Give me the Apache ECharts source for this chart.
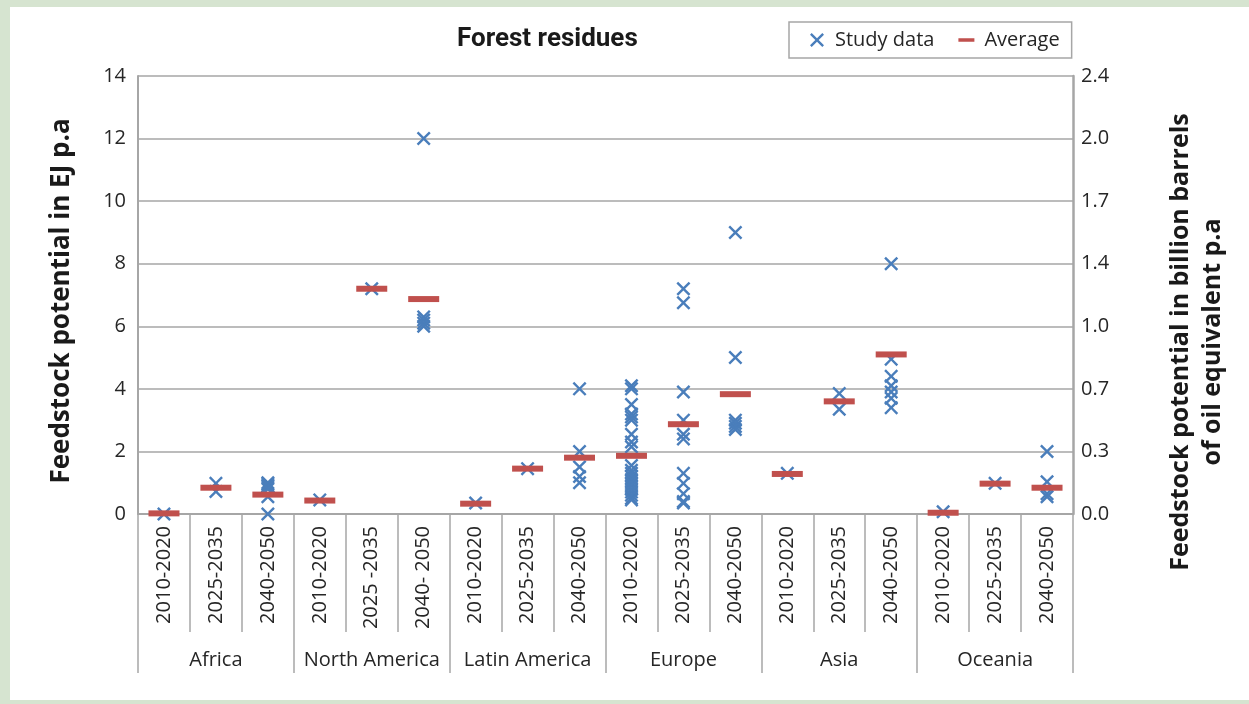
<!DOCTYPE html>
<html>
<head>
<meta charset="utf-8">
<title>Forest residues</title>
<script src="https://cdn.jsdelivr.net/npm/echarts@6/dist/echarts.min.js"></script>
<style>
  body { margin: 0; background: #d6e4d0; }
  #panel { position: absolute; left: 10px; top: 7px; width: 1239px; height: 693px; background: #fff; }
  #chart { position: absolute; left: 0; top: 0; width: 1249px; height: 704px; }
</style>
</head>
<body>
<div id="panel"></div>
<div id="chart"></div>
<script>
// periods per region, in axis order
const periods = [
  '2010-2020', '2025-2035', '2040-2050',
  '2010-2020', '2025 -2035', '2040- 2050',
  '2010-2020', '2025-2035', '2040-2050',
  '2010-2020', '2025-2035', '2040-2050',
  '2010-2020', '2025-2035', '2040-2050',
  '2010-2020', '2025-2035', '2040-2050'
];
const regions = ['Africa', 'North America', 'Latin America', 'Europe', 'Asia', 'Oceania'];

// individual study values (EJ p.a), one list per period
const studyValues = [
  [0.0], [0.98, 0.72], [1.0, 0.95, 0.9, 0.85, 0.8, 0.55, 0.0],                 // Africa
  [0.45], [7.2], [12.0, 6.3, 6.2, 6.1, 6.0],                                    // North America
  [0.35], [1.45], [4.0, 2.0, 1.5, 1.2, 1.0],                                    // Latin America
  [4.1, 4.0, 3.5, 3.2, 3.1, 3.0, 2.55, 2.3, 2.15, 1.55, 1.4, 1.3, 1.2, 1.1,
   1.0, 0.9, 0.8, 0.7, 0.6, 0.5, 0.45],
  [7.2, 6.75, 3.9, 3.0, 2.55, 2.4, 1.3, 0.98, 0.65, 0.4, 0.35],
  [9.0, 5.0, 3.0, 2.9, 2.8, 2.7],                                               // Europe
  [1.3], [3.85, 3.35], [8.0, 4.95, 4.4, 4.1, 3.9, 3.7, 3.4],                    // Asia
  [0.07], [0.98], [2.0, 1.03, 0.65, 0.55]                                       // Oceania
];

// average per period
const averages = [
  0.02, 0.84, 0.62,
  0.43, 7.2, 6.87,
  0.33, 1.45, 1.8,
  1.86, 2.87, 3.83,
  1.28, 3.6, 5.1,
  0.04, 0.97, 0.84
];

const leftTicks = [0, 2, 4, 6, 8, 10, 12, 14];
const rightTickLabels = ['0.0', '0.3', '0.7', '1.0', '1.4', '1.7', '2.0', '2.4'];

const studyPoints = [];
studyValues.forEach((vals, i) => vals.forEach(v => studyPoints.push([i, v])));
const avgPoints = averages.map((v, i) => [i, v]);

const FONT = '"Open Sans", "Noto Sans", sans-serif';
const TXT = '#262626';
const GRID = '#a6a6a6';
const crossPath = 'path://M0,1.7L1.7,0L7,5.3L12.3,0L14,1.7L8.7,7L14,12.3L12.3,14L7,8.7L1.7,14L0,12.3L5.3,7Z';
// thin dash, padded to a 26x14 box so the legend keeps it small
const dashPath = 'path://M0,0L26,0L26,0Z M5,5.2L21,5.2L21,8.8L5,8.8Z M0,14L26,14L26,14Z';

const chart = echarts.init(document.getElementById('chart'));

chart.setOption({
  animation: false,
  title: {
    text: 'Forest residues',
    left: 452, top: 21,
    textStyle: { fontFamily: 'Roboto, sans-serif', fontWeight: 'bold', fontSize: 26, color: '#1a1a1a' }
  },
  legend: {
    left: 789, top: 22,
    padding: [8, 12, 8, 21],
    itemGap: 19, itemWidth: 26, itemHeight: 14,
    borderColor: GRID, borderWidth: 1.5,
    textStyle: { fontFamily: FONT, fontSize: 20, color: TXT },
    data: [
      { name: 'Study data', icon: crossPath },
      { name: 'Average', icon: dashPath }
    ]
  },
  grid: [
    { left: 138, right: 176, top: 76, bottom: 190 },
    // empty strip whose bottom edge sits under the period labels; carries the region axis
    { left: 138, right: 176, top: 560, bottom: 72 }
  ],
  xAxis: [
    {
      type: 'category',
      gridIndex: 0,
      data: periods,
      position: 'bottom',
      axisLine: { lineStyle: { color: GRID, width: 2 } },
      axisTick: { show: true, interval: 0, length: 118, lineStyle: { color: GRID, width: 1.5 } },
      axisLabel: { interval: 0, rotate: 90, margin: 12, fontFamily: FONT, fontSize: 20, color: TXT }
    },
    {
      type: 'category',
      gridIndex: 1,
      data: regions,
      position: 'bottom',
      axisLine: { show: false },
      axisTick: { show: true, interval: 0, length: 41, lineStyle: { color: GRID, width: 1.5 } },
      axisLabel: { interval: 0, margin: 18, fontFamily: FONT, fontSize: 20, color: TXT }
    }
  ],
  yAxis: [
    {
      type: 'value', gridIndex: 0, min: 0, max: 14, interval: 2,
      axisLine: { show: true, lineStyle: { color: GRID, width: 2 } },
      axisTick: { show: false },
      splitLine: { lineStyle: { color: GRID, width: 1.5 } },
      axisLabel: { margin: 12, fontFamily: FONT, fontSize: 20, color: TXT }
    },
    {
      type: 'value', gridIndex: 0, min: 0, max: 14, interval: 2, position: 'right',
      axisLine: { show: true, lineStyle: { color: GRID, width: 2.5 } },
      axisTick: { show: false },
      splitLine: { show: false },
      axisLabel: {
        margin: 8, fontFamily: FONT, fontSize: 20, color: TXT,
        formatter: v => rightTickLabels[leftTicks.indexOf(v)]
      }
    },
    { type: 'value', gridIndex: 1, show: false }
  ],
  graphic: [
    {
      type: 'text', x: 62, y: 301, rotation: Math.PI / 2,
      style: {
        text: 'Feedstock potential in EJ p.a',
        font: 'bold 26px ' + FONT, fill: '#1a1a1a',
        align: 'center', verticalAlign: 'middle', textAlign: 'center', textVerticalAlign: 'middle'
      }
    },
    {
      type: 'text', x: 1197, y: 342, rotation: Math.PI / 2,
      style: {
        text: 'Feedstock potential in billion barrels\nof oil equivalent p.a',
        font: 'bold 25px ' + FONT, fill: '#1a1a1a', lineHeight: 32,
        align: 'center', verticalAlign: 'middle', textAlign: 'center', textVerticalAlign: 'middle'
      }
    }
  ],
  series: [
    {
      name: 'Study data',
      type: 'scatter',
      xAxisIndex: 0, yAxisIndex: 0,
      symbol: crossPath,
      symbolSize: 14,
      itemStyle: { color: '#4a7ebb', opacity: 1 },
      data: studyPoints
    },
    {
      name: 'Average',
      type: 'scatter',
      xAxisIndex: 0, yAxisIndex: 0,
      symbol: 'rect',
      symbolSize: [31, 6],
      itemStyle: { color: '#c0504d', opacity: 1 },
      data: avgPoints
    }
  ]
});
</script>
</body>
</html>
